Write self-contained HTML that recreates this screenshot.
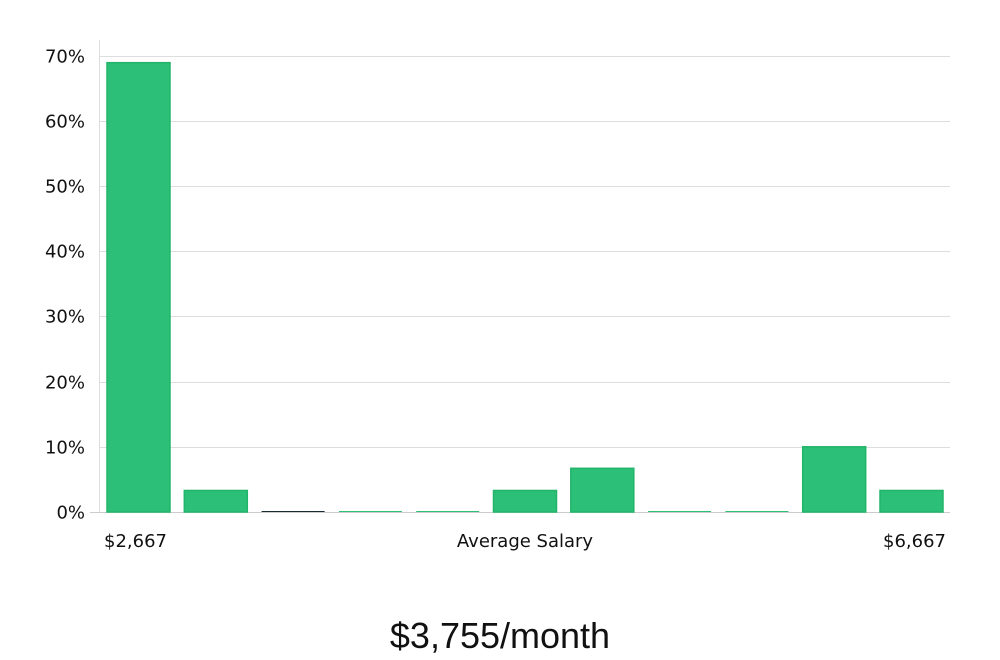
<!DOCTYPE html>
<html><head><meta charset="utf-8"><style>
html,body{margin:0;padding:0;background:#fff;width:1000px;height:660px;overflow:hidden}
text{font-family:"DejaVu Sans","Liberation Sans",sans-serif}
</style></head><body>
<svg id="chart" width="1000" height="660" xmlns="http://www.w3.org/2000/svg">
<g id="grid"></g>
<g id="yticks"></g>
<line x1="99.5" y1="40" x2="99.5" y2="512" stroke="#ddd"/>
<line x1="90" y1="512.5" x2="950" y2="512.5" stroke="#ccc"/>
<g id="bars"></g>
<text x="104" y="547" font-size="18" fill="#111">$2,667</text>
<text x="525" y="547" font-size="18" fill="#111" text-anchor="middle">Average Salary</text>
<text x="946" y="547" font-size="18" fill="#111" text-anchor="end">$6,667</text>
<text x="500" y="648" font-size="36" fill="#111" text-anchor="middle" font-family="Liberation Sans, sans-serif" style="font-family:'Liberation Sans',sans-serif">$3,755/month</text>
</svg>
<script>
const binValues = [68.9, 3.3, 0, 0, 0, 3.3, 6.7, 0, 0, 10, 3.3];
const tickValues = [0, 10, 20, 30, 40, 50, 60, 70];
const tickLabels = ["0%", "10%", "20%", "30%", "40%", "50%", "60%", "70%"];
const NS = "http://www.w3.org/2000/svg";
const y0 = 512, pxPer = (512 - 55.5) / 70;
function yScale(v){ return y0 - v * pxPer; }
const x0 = 107, step = 77.3, bw = 63;
function xScale(i){ return x0 + i * step; }
const grid = document.getElementById('grid'), yt = document.getElementById('yticks'), bars = document.getElementById('bars');
tickValues.forEach((t, i) => {
  const y = Math.round(yScale(t)) + 0.5;
  if (t > 0) {
    const l = document.createElementNS(NS, 'line');
    
    
    l.setAttribute('x1', 100); l.setAttribute('x2', 950);
    l.setAttribute('y1', y); l.setAttribute('y2', y);
    l.setAttribute('stroke', '#ddd');
    grid.appendChild(l);
  }
  const tx = document.createElementNS(NS, 'text');
  
  
  tx.setAttribute('x', 85); tx.setAttribute('y', y + 6);
  tx.setAttribute('text-anchor', 'end');
  tx.setAttribute('font-size', '18'); tx.setAttribute('fill', '#111');
  tx.textContent = tickLabels[i];
  yt.appendChild(tx);
});
binValues.forEach((v, i) => {
  const r = document.createElementNS(NS, 'rect');
  
  
  const top = yScale(v);
  const h = Math.max(y0 - top, 1);
  r.setAttribute('x', xScale(i)); r.setAttribute('y', y0 - h);
  r.setAttribute('width', bw); r.setAttribute('height', h);
  r.setAttribute('fill', i === 2 ? '#1a2a33' : '#2bbf77');
  if (v > 0) { r.setAttribute('stroke', '#22b56a'); r.setAttribute('stroke-width', '1.5'); }
  bars.appendChild(r);
});
</script>
</body></html>
